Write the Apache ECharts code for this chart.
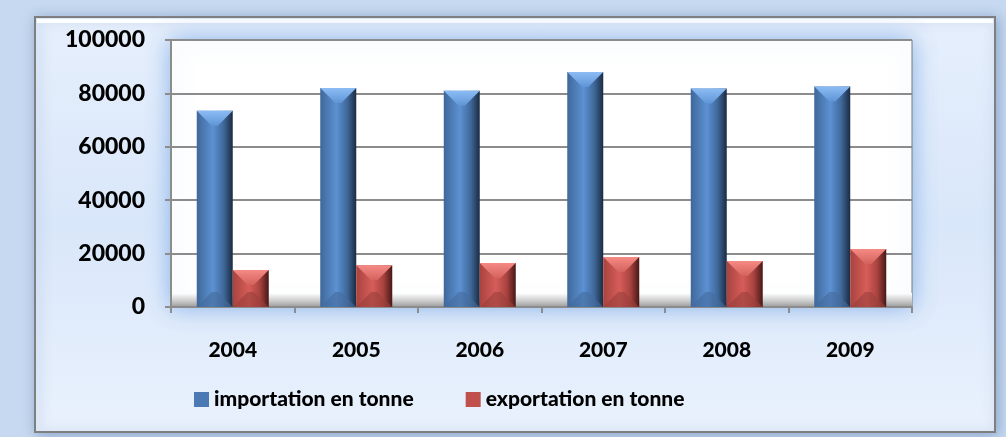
<!DOCTYPE html>
<html>
<head>
<meta charset="utf-8">
<script src="https://cdn.jsdelivr.net/npm/echarts@6/dist/echarts.min.js"></script>
<style>
html, body { margin: 0; padding: 0; background: #c6d9f0; }
#chart { width: 1006px; height: 437px; }
</style>
</head>
<body>
<div id="chart"></div>
<script>
var years = ["2004", "2005", "2006", "2007", "2008", "2009"];
var importation = [73500, 82000, 81000, 88000, 81800, 82600];
var exportation = [13900, 15600, 16500, 18700, 17200, 21700];
var seriesNames = ["importation en tonne", "exportation en tonne"];
var yTicks = [0, 20000, 40000, 60000, 80000, 100000];

var palettes = [
    { left: "#3f6899", mid: "#5c91d3", right: "#1b2b42", top0: "#8cbcf4", top1: "#5f95d6", bottom: "#446a9c" },
    { left: "#a9433f", mid: "#d65d59", right: "#471817", top0: "#f58a84", top1: "#d4625d", bottom: "#99403c" }
];

function bevelBar(which) {
    return function (params, api) {
        var idx = api.value(0);
        var val = api.value(1);
        var bw = 36;
        var top = api.coord([idx, val]);
        var base = api.coord([idx, 0]);
        var x0 = top[0] + (which === 0 ? -bw : 0);
        var x1 = x0 + bw;
        var y0 = top[1];
        var y1 = base[1];
        var h = y1 - y0;
        var b = Math.min(15, h / 2, bw / 2 - 1);
        var p = palettes[which];
        return {
            type: "group",
            children: [
                {
                    type: "rect",
                    shape: { x: x0, y: y0, width: bw, height: h },
                    style: {
                        fill: new echarts.graphic.LinearGradient(0, 0, 1, 0, [
                            { offset: 0, color: p.left },
                            { offset: 0.45, color: p.mid },
                            { offset: 0.75, color: p.left },
                            { offset: 1, color: p.right }
                        ])
                    }
                },
                {
                    type: "polygon",
                    shape: { points: [[x0, y0], [x1, y0], [x1 - b, y0 + b], [x0 + b, y0 + b]] },
                    style: {
                        fill: new echarts.graphic.LinearGradient(0, 0, 0, 1, [
                            { offset: 0, color: p.top0 },
                            { offset: 1, color: p.top1 }
                        ])
                    }
                },
                {
                    type: "polygon",
                    shape: { points: [[x0, y1], [x1, y1], [x1 - b, y1 - b], [x0 + b, y1 - b]] },
                    style: { fill: p.bottom, opacity: 0.6 }
                }
            ]
        };
    };
}

function toData(arr) {
    return arr.map(function (v, i) { return [i, v]; });
}

var labelFont = "Lato, 'Liberation Sans', sans-serif";

var myChart = echarts.init(document.getElementById("chart"), null, { renderer: "canvas" });

var option = {
    backgroundColor: "#c6d9f0",
    animation: false,
    graphic: [
        {
            type: "rect",
            z: -10,
            shape: { x: 35, y: 17, width: 960, height: 415 },
            style: {
                fill: new echarts.graphic.LinearGradient(0, 0, 0, 1, [
                    { offset: 0, color: "#e6effc" },
                    { offset: 0.5, color: "#d9e7fa" },
                    { offset: 1, color: "#e9f1fd" }
                ]),
                stroke: "#7f7f7f",
                lineWidth: 2,
                shadowColor: "rgba(90,120,170,0.5)",
                shadowBlur: 12,
                shadowOffsetX: 2,
                shadowOffsetY: 2
            }
        },
        {
            type: "rect",
            z: -10,
            shape: { x: 37, y: 19, width: 956, height: 4 },
            style: { fill: "rgba(255,255,255,0.9)" }
        },
        {
            type: "rect",
            z: -9,
            shape: { x: 171, y: 40, width: 741, height: 267 },
            style: {
                fill: "#ffffff",
                stroke: "#7a7a7a",
                lineWidth: 1,
                shadowColor: "rgba(110,160,225,0.75)",
                shadowBlur: 22,
                shadowOffsetX: 0,
                shadowOffsetY: 0
            }
        },
        {
            type: "rect",
            z: -8,
            shape: { x: 171, y: 293, width: 741, height: 14 },
            style: {
                fill: new echarts.graphic.LinearGradient(0, 0, 0, 1, [
                    { offset: 0, color: "#ffffff" },
                    { offset: 0.6, color: "#c8c8c8" },
                    { offset: 1, color: "#9a9a9a" }
                ])
            }
        }
    ],
    grid: {
        left: 171,
        right: 94,
        top: 40,
        bottom: 130,
        show: false
    },
    legend: {
        left: 189,
        top: 384,
        itemWidth: 15,
        itemHeight: 15,
        itemGap: 52,
        icon: "rect",
        textStyle: {
            fontFamily: labelFont,
            fontWeight: 900,
            fontSize: 21,
            color: "#000"
        },
        data: [
            { name: seriesNames[0], itemStyle: { color: "#4a79b4" } },
            { name: seriesNames[1], itemStyle: { color: "#c0504d" } }
        ]
    },
    xAxis: {
        type: "category",
        data: years,
        axisLine: { show: true, lineStyle: { color: "#8c8c8c", width: 2 } },
        axisTick: { show: true, length: 6, lineStyle: { color: "#8c8c8c", width: 2 } },
        axisLabel: {
            margin: 33,
            fontFamily: labelFont,
            fontWeight: 900,
            fontSize: 21,
            color: "#000"
        },
        splitLine: { show: false }
    },
    yAxis: {
        type: "value",
        min: yTicks[0],
        max: yTicks[yTicks.length - 1],
        interval: yTicks[1] - yTicks[0],
        axisLine: { show: true, lineStyle: { color: "#8c8c8c", width: 2 } },
        axisTick: { show: true, length: 6, lineStyle: { color: "#8c8c8c", width: 2 } },
        axisLabel: {
            margin: 26,
            fontFamily: labelFont,
            fontWeight: 900,
            fontSize: 23,
            color: "#000",
            formatter: function (v) { return String(v); }
        },
        splitLine: { show: true, lineStyle: { color: "#8c8c8c", width: 2 } }
    },
    series: [
        {
            name: seriesNames[0],
            type: "custom",
            renderItem: bevelBar(0),
            encode: { x: 0, y: 1 },
            itemStyle: { color: "#4a79b4" },
            data: toData(importation),
            z: 3
        },
        {
            name: seriesNames[1],
            type: "custom",
            renderItem: bevelBar(1),
            encode: { x: 0, y: 1 },
            itemStyle: { color: "#c0504d" },
            data: toData(exportation),
            z: 3
        }
    ]
};

if (option && typeof option === "object") {
    myChart.setOption(option, true);
}
</script>
</body>
</html>
